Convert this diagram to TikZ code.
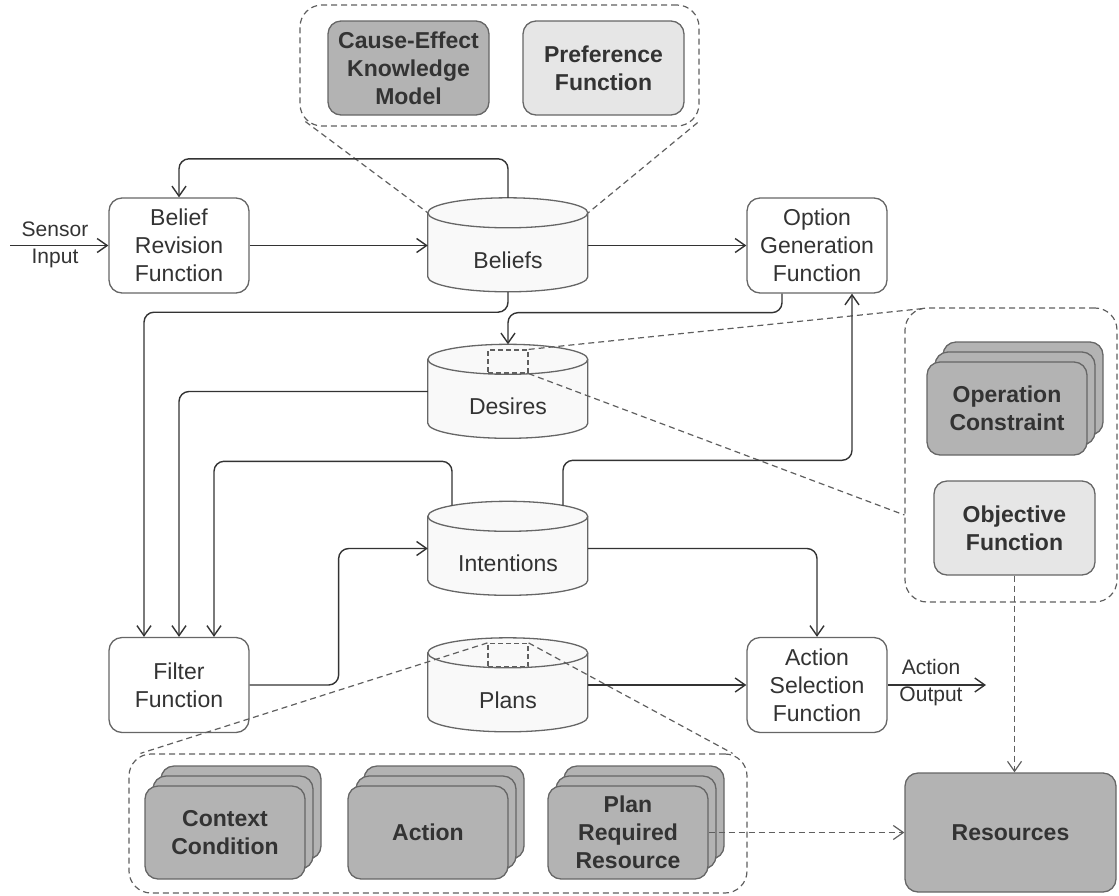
\documentclass[tikz,border=0pt]{standalone}
\usepackage{fontspec}
\setmainfont{Liberation Sans}
\usetikzlibrary{arrows.meta,calc}

\definecolor{ink}{HTML}{333333}
\definecolor{border}{HTML}{666666}
\definecolor{dashcol}{HTML}{5F5F5F}
\definecolor{darkfill}{HTML}{B3B3B3}
\definecolor{lightfill}{HTML}{E6E6E6}
\definecolor{cylfill}{HTML}{F9F9F9}

\newcommand{\boxfont}{\fontsize{23}{28}\selectfont}
\newcommand{\lblfont}{\fontsize{21}{27}\selectfont}

\tikzset{
  box/.style={draw=border, line width=1.3pt, rounded corners=13pt, fill=white,
    minimum width=140pt, minimum height=95pt, inner sep=0pt, align=center,
    text=ink, font=\boxfont},
  darkbox/.style={box, fill=darkfill, minimum width=160pt, minimum height=93pt,
    font=\boxfont\bfseries},
  lightbox/.style={darkbox, fill=lightfill},
  grp/.style={draw=dashcol, line width=1.2pt, dash pattern=on 6pt off 4pt,
    rounded corners=22pt, inner sep=0pt},
  cylhold/.style={minimum width=160pt, minimum height=94pt, inner sep=0pt},
  cylbody/.style={draw=border, line width=1.3pt, fill=cylfill},
  conn/.style={draw=ink, line width=1.4pt, rounded corners=10pt,
    -{Straight Barb[length=10pt,width=14pt]}},
  link/.style={draw=dashcol, line width=1.2pt, dash pattern=on 6pt off 4pt},
  dconn/.style={link, -{Straight Barb[length=10pt,width=14pt]}},
  zoomrect/.style={draw=dashcol, line width=1.2pt, dash pattern=on 5pt off 3pt,
    minimum width=40pt, minimum height=23pt, inner sep=0pt},
  edgelbl/.style={align=center, font=\lblfont, inner sep=0pt, text=ink},
}

% data store drawn as a cylinder: name, centre x, centre y, label
\newcommand{\datastore}[4]{%
  \node[cylhold] (#1) at (#2,#3) {};
  \path[cylbody] (#1.north west) ++(0,15) -- ++(0,64)
    arc[start angle=180,end angle=360,x radius=80pt,y radius=15pt]
    -- ++(0,-64)
    arc[start angle=0,end angle=180,x radius=80pt,y radius=15pt] -- cycle;
  \draw[draw=border, line width=1.3pt] (#1.north west) ++(0,15)
    arc[start angle=180,end angle=360,x radius=80pt,y radius=15pt];
  \node[font=\boxfont, inner sep=0pt, text=ink] (#1-text) at (#2,#3+15) {#4};
}

\begin{document}
\begin{tikzpicture}[x=1pt,y=-1pt]
\useasboundingbox (0,0) rectangle (1119,895);

% ---- knowledge attached to the beliefs ----
\node[grp, minimum width=399pt, minimum height=121pt] (topgrp) at (499.5,65.5) {};
\node[darkbox, minimum width=161pt, minimum height=94pt] (cek) at (408.5,68) {Cause-Effect\\Knowledge\\Model};
\node[lightbox, minimum width=161pt, minimum height=94pt] (pref) at (603.5,68) {Preference\\Function};

% ---- functions ----
\node[box] (brf) at (179,245.5) {Belief\\Revision\\Function};
\node[box] (ogf) at (817,245.5) {Option\\Generation\\Function};
\node[box] (filt) at (179,685) {Filter\\Function};
\node[box] (asf) at (817,685) {Action\\Selection\\Function};

% ---- data stores ----
\datastore{beliefs}{508}{245}{Beliefs}
\datastore{desires}{508}{391.5}{Desires}
\datastore{intentions}{508}{548.5}{Intentions}
\datastore{plans}{508}{685}{Plans}

\node[zoomrect] (dzoom) at (508,361.5) {};
\node[zoomrect] (pzoom) at (508,655) {};

% ---- desire details ----
\node[grp, minimum width=212pt, minimum height=294pt] (rgrp) at (1011,455) {};
\node[darkbox] (opc3) at (1023,388.5) {};
\node[darkbox] (opc2) at (1015,398.5) {};
\node[darkbox] (opc) at (1007,408.5) {Operation\\Constraint};
\node[lightbox, minimum width=161pt, minimum height=94pt] (obj) at (1014.5,528) {Objective\\Function};

% ---- plan details ----
\node[grp, minimum width=618pt, minimum height=139pt] (bgrp) at (438,823.5) {};
\node[darkbox] (ctx3) at (241,812.5) {};
\node[darkbox] (ctx2) at (233,822.5) {};
\node[darkbox] (ctx) at (225,832.5) {Context\\Condition};
\node[darkbox] (act3) at (444,812.5) {};
\node[darkbox] (act2) at (436,822.5) {};
\node[darkbox] (act) at (428,832.5) {Action};
\node[darkbox] (prr3) at (644,812.5) {};
\node[darkbox] (prr2) at (636,822.5) {};
\node[darkbox] (prr) at (628,832.5) {Plan\\Required\\Resource};

\node[darkbox, minimum width=211pt, minimum height=119pt] (res) at (1010.5,832.5) {Resources};

% ---- zoom-out guide lines ----
\draw[link] ($(topgrp.south west)+(6,-5)$) -- ($(beliefs.north west)+(0,15)$);
\draw[link] ($(topgrp.south east)+(-2,-4)$) -- ($(beliefs.north east)+(0,15)$);
\draw[link] (dzoom.north east) -- ($(rgrp.north west)+(20,1)$);
\draw[link] (dzoom.south east) -- ($(rgrp.west)+(0,60)$);
\draw[link] (pzoom.north west) -- ($(bgrp.north west)+(12,0)$);
\draw[link] (pzoom.north east) -- ($(bgrp.north east)+(-15,0)$);

% ---- control flow ----
\coordinate (sensin) at (10,245.5);
\draw[conn] (sensin) -- (brf.west);
\node[edgelbl] (sensorlbl) at (55,245) {Sensor\\Input};

\draw[conn] (brf.east) -- (brf.east -| beliefs.west);
\draw[conn] (beliefs.north) -- ++(0,-39) -| (brf.north);
\draw[conn] (beliefs.east |- ogf.west) -- (ogf.west);
\draw[conn] ($(ogf.south)+(-35,0)$) -- ++(0,19) -| (desires.north);
\draw[conn] (beliefs.south) -- ++(0,20) -| ($(filt.north)+(-35,0)$);
\draw[conn] (desires.west) -| (filt.north);
\draw[conn] ($(intentions.north)+(-56,4.3)$) -- ($(intentions.north)+(-56,-40)$) -| ($(filt.north)+(35,0)$);
\draw[conn] (filt.east) -- ++(89,0) |- (intentions.west);
\draw[conn] ($(intentions.north)+(55,4.3)$) -- ($(intentions.north)+(55,-41)$) -| ($(ogf.south)+(35,0)$);
\draw[conn] (intentions.east) -| (asf.north);
\draw[conn] (plans.east) -- (asf.west);

\coordinate (actout) at (986,685);
\draw[conn] (asf.east) -- (actout);
\node[edgelbl] (actlbl) at (931,683) {Action\\Output};

% ---- resource links ----
\draw[dconn] (obj.south) -- (obj.south |- res.north);
\draw[dconn] (prr.east) -- (prr.east -| res.west);

\end{tikzpicture}
\end{document}
